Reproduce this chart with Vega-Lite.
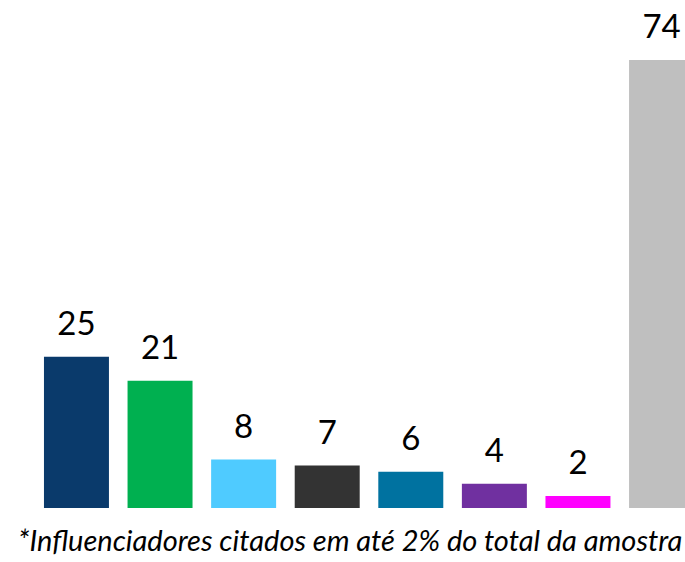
{
  "$schema": "https://vega.github.io/schema/vega-lite/v6.json",
  "width": 738,
  "height": 508,
  "padding": 0,
  "autosize": {"type": "pad"},
  "background": "white",
  "config": {"view": {"stroke": null}},
  "title": {
    "text": "*Influenciadores citados em até 2% do total da amostra",
    "orient": "bottom",
    "anchor": "start",
    "dx": 18,
    "offset": 20,
    "font": "Lato",
    "fontSize": 29,
    "fontStyle": "italic",
    "fontWeight": "normal",
    "color": "#000000"
  },
  "data": {
    "values": [
      {"k": "a", "v": 25, "c": "#0A3A6B"},
      {"k": "b", "v": 21, "c": "#00B050"},
      {"k": "c", "v": 8, "c": "#4FCBFF"},
      {"k": "d", "v": 7, "c": "#333333"},
      {"k": "e", "v": 6, "c": "#0072A0"},
      {"k": "f", "v": 4, "c": "#7030A0"},
      {"k": "g", "v": 2, "c": "#FF00FF"},
      {"k": "h", "v": 74, "c": "#BFBFBF"}
    ]
  },
  "encoding": {
    "x": {"field": "k", "type": "nominal", "sort": null, "axis": null,
          "scale": {"paddingInner": 0.2225, "paddingOuter": 0.526}},
    "y": {"field": "v", "type": "quantitative", "axis": null,
          "scale": {"domain": [0, 83.9], "nice": false, "zero": true}}
  },
  "layer": [
    {"mark": {"type": "bar"}, "encoding": {"color": {"field": "c", "type": "nominal", "scale": null}}},
    {"mark": {"type": "text", "baseline": "alphabetic", "dy": -22, "font": "Lato", "fontSize": 33, "color": "#000000"},
     "encoding": {"text": {"field": "v", "type": "quantitative"}}}
  ]
}
